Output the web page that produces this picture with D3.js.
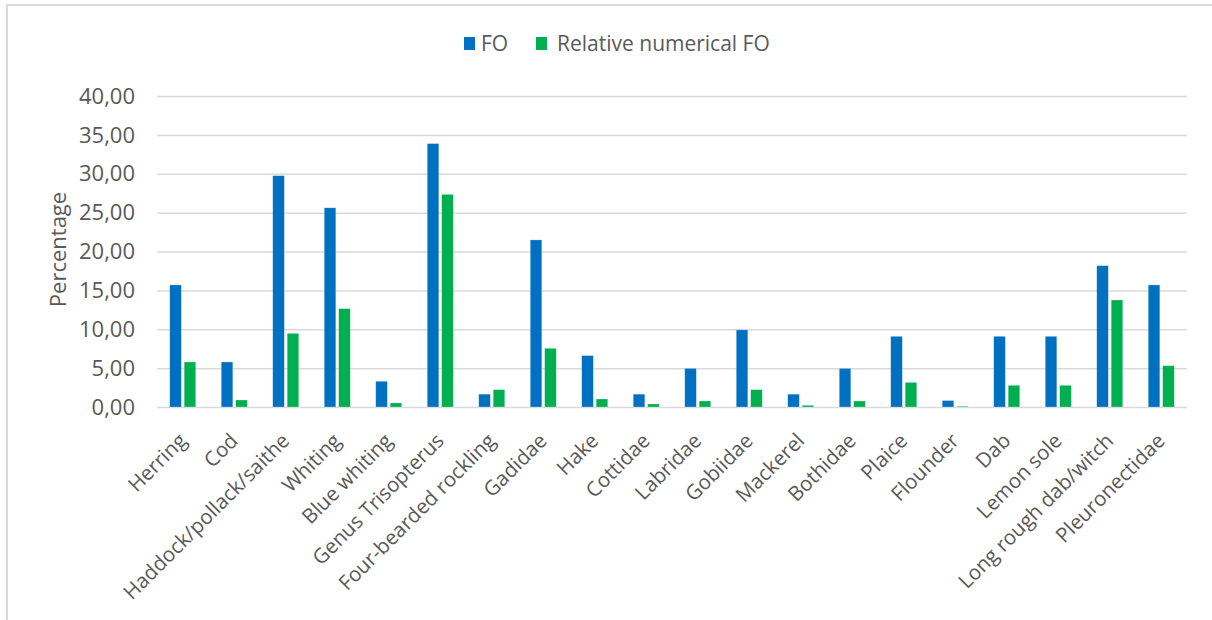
<!DOCTYPE html>
<meta charset="utf-8">
<head>
	<script src="https://d3js.org/d3.v7.min.js"></script>
	<style>
		body {
			margin: 0;
			background: #fff;
			font-family: "Open Sans", sans-serif;
		}
		.grid line {
			stroke: #d9d9d9;
			stroke-width: 1.5;
		}
		.grid path {
			display: none;
		}
	</style>
</head>

<body>
	<div id="chart"></div>
</body>

<script type="text/javascript">
	var categories = ["Herring", "Cod", "Haddock/pollack/saithe", "Whiting", "Blue whiting",
		"Genus Trisopterus", "Four-bearded rockling", "Gadidae", "Hake", "Cottidae",
		"Labridae", "Gobiidae", "Mackerel", "Bothidae", "Plaice", "Flounder", "Dab",
		"Lemon sole", "Long rough dab/witch", "Pleuronectidae"];

	var fo = [15.70, 5.79, 29.75, 25.62, 3.31, 33.88, 1.65, 21.49, 6.61, 1.65,
		4.96, 9.92, 1.65, 4.96, 9.09, 0.83, 9.09, 9.09, 18.18, 15.70];

	var relFo = [5.79, 0.90, 9.47, 12.65, 0.52, 27.35, 2.23, 7.55, 1.03, 0.39,
		0.77, 2.23, 0.22, 0.77, 3.17, 0.10, 2.79, 2.79, 13.76, 5.31];

	var seriesNames = ["FO", "Relative numerical FO"];
	var colors = ["#0070c0", "#00b050"];
	var yTicks = [0, 5, 10, 15, 20, 25, 30, 35, 40];

	var W = 1212, H = 620;
	var margin = {top: 96, right: 25, bottom: 213, left: 157},
		width = W - margin.left - margin.right,
		height = H - margin.top - margin.bottom;

	var svg = d3.select("#chart").append("svg")
		.attr("width", W)
		.attr("height", H);

	// outer frame (only top + left edge visible)
	svg.append("path")
		.attr("d", "M7," + H + "V5H" + W)
		.attr("fill", "none")
		.attr("stroke", "#d9d9d9")
		.attr("stroke-width", 2);

	var g = svg.append("g")
		.attr("transform", "translate(" + margin.left + "," + margin.top + ")");

	var x0 = d3.scaleBand()
		.domain(categories)
		.range([0, width])
		.paddingInner(0.495)
		.paddingOuter(0.2475);

	var x1 = d3.scaleBand()
		.domain([0, 1])
		.range([0, x0.bandwidth()])
		.paddingInner(0.2);

	var y = d3.scaleLinear()
		.domain([0, 40])
		.range([height, 0]);

	var grid = g.append("g")
		.attr("class", "grid")
		.call(d3.axisLeft(y).tickValues(yTicks).tickSize(-width).tickFormat(""));

	g.append("g")
		.selectAll("text")
		.data(yTicks)
		.enter().append("text")
		.attr("x", -22)
		.attr("y", function(d) { return y(d); })
		.attr("dy", "0.35em")
		.style("text-anchor", "end")
		.style("font-size", "22px")
		.style("fill", "#595959")
		.text(function(d) { return d3.format(".2f")(d).replace(".", ","); });

	g.append("text")
		.attr("transform", "translate(-99," + (height / 2 - 2) + ")rotate(-90)")
		.attr("dy", "0.35em")
		.style("text-anchor", "middle")
		.style("font-size", "22px")
		.style("fill", "#595959")
		.text("Percentage");

	var rows = categories.map(function(c, i) {
		return {cat: c, values: [fo[i], relFo[i]]};
	});

	var groups = g.append("g")
		.selectAll("g")
		.data(rows)
		.enter().append("g")
		.attr("transform", function(d) { return "translate(" + x0(d.cat) + ",0)"; });

	groups.selectAll("rect")
		.data(function(d) { return d.values; })
		.enter().append("rect")
		.attr("x", function(d, i) { return x1(i); })
		.attr("width", x1.bandwidth())
		.attr("y", function(d) { return y(d); })
		.attr("height", function(d) { return height - y(d); })
		.style("fill", function(d, i) { return colors[i]; })
		.style("stroke", "#fff")
		.style("stroke-opacity", 0.4)
		.style("stroke-width", 0.6);

	// x labels rotated
	g.append("g")
		.selectAll("text")
		.data(categories)
		.enter().append("text")
		.attr("transform", function(d) {
			return "translate(" + (x0(d) + x0.bandwidth() / 2 + 5) + "," + (height + 35) + ")rotate(-45)";
		})
		.style("text-anchor", "end")
		.style("font-size", "20.5px")
		.style("fill", "#595959")
		.text(function(d) { return d; });

	// legend
	var legend = svg.append("g")
		.attr("transform", "translate(464,37)");

	var lx = [0, 72];
	var item = legend.selectAll("g")
		.data(seriesNames)
		.enter().append("g")
		.attr("transform", function(d, i) { return "translate(" + lx[i] + ",0)"; });

	item.append("rect")
		.attr("width", 11)
		.attr("height", 13)
		.style("fill", function(d, i) { return colors[i]; });

	item.append("text")
		.attr("x", function(d, i) { return i == 0 ? 17 : 21; })
		.attr("y", 7)
		.attr("dy", "0.35em")
		.style("font-size", "21px")
		.style("fill", "#595959")
		.text(function(d) { return d; });
</script>
